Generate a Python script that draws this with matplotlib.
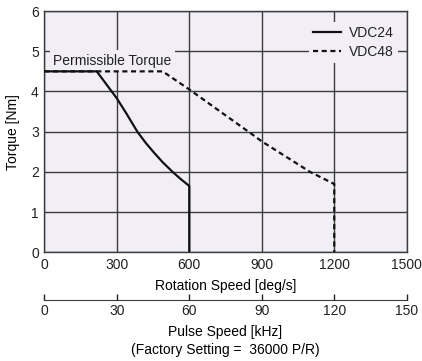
import matplotlib.pyplot as plt

# speed-torque characteristics (rotation speed in deg/s, torque in N·m)
speed_24 = [0, 217, 279, 300, 340, 385, 420, 451, 490, 531, 565, 600, 600]
torque_24 = [4.5, 4.5, 4.0, 3.83, 3.45, 3.0, 2.72, 2.5, 2.24, 2.0, 1.82, 1.65, 0]

speed_48 = [0, 490, 600, 845, 900, 1100, 1200, 1200]
torque_48 = [4.5, 4.5, 4.05, 3.0, 2.76, 2.0, 1.7, 0]

x_ticks = [0, 300, 600, 900, 1200, 1500]
y_ticks = [0, 1, 2, 3, 4, 5, 6]
pulse_ticks = [0, 30, 60, 90, 120, 150]

BG = '#f1eef5'
INK = '#222222'
GRID = '#3c3c3c'

plt.rcParams['font.family'] = ['Liberation Sans', 'DejaVu Sans']
plt.rcParams['font.size'] = 10
plt.rcParams['text.color'] = INK


def draw_chart():
    fig = plt.figure(figsize=(4.22, 3.61), dpi=100)
    ax = fig.add_axes([0.105, 0.301, 0.8588, 0.6684])
    ax.set_facecolor(BG)

    ax.plot(speed_24, torque_24, color='#111111', lw=1.6, label='VDC24', zorder=3)
    ax.plot(speed_48, torque_48, color='#111111', lw=1.6, dashes=(2.3, 1.6),
            label='VDC48', zorder=3)

    ax.set_xlim(0, 1500)
    ax.set_ylim(0, 6)
    ax.set_xticks(x_ticks)
    ax.set_yticks(y_ticks)
    ax.grid(True, color=GRID, lw=1.0)
    ax.set_axisbelow(True)
    ax.tick_params(length=0, pad=4, colors=INK, labelsize=10)
    for s in ax.spines.values():
        s.set_color(GRID)
        s.set_linewidth(1.0)

    ax.set_xlabel('Rotation Speed [deg/s]', labelpad=5)
    ax.set_ylabel('Torque [Nm]', labelpad=8)

    ax.text(36, 4.77, 'Permissible Torque', ha='left', va='center', zorder=2,
            bbox=dict(boxstyle='square,pad=0.25', facecolor=BG, edgecolor='none'))

    leg = ax.legend(loc='upper right', bbox_to_anchor=(0.995, 0.985),
                    frameon=True, fancybox=False, handlelength=2.0,
                    handletextpad=0.6, borderpad=0.3, labelspacing=0.4)
    leg.get_frame().set_facecolor(BG)
    leg.get_frame().set_edgecolor('none')
    leg.get_frame().set_alpha(1)

    # pulse speed scale below: 36000 P/R -> 10 deg/s per kHz
    sec = ax.secondary_xaxis(-0.198, functions=(lambda x: x / 10, lambda x: x * 10))
    sec.set_xticks(pulse_ticks)
    sec.tick_params(direction='in', length=4, width=1, colors=INK, pad=3, labelsize=10)
    sec.spines['bottom'].set_color(GRID)
    sec.set_xlabel('Pulse Speed [kHz]\n(Factory Setting =  36000 P/R)',
                   labelpad=5, linespacing=1.3)

    fig.savefig('out.png', dpi=100)


if __name__ == '__main__':
    draw_chart()
